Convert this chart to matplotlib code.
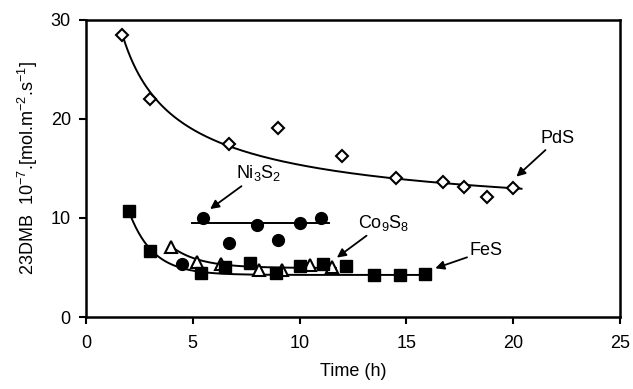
import numpy as np
import matplotlib
matplotlib.use('Agg')
from matplotlib import pyplot as plt

plt.rcParams['font.family'] = ['Liberation Sans', 'DejaVu Sans']
plt.rcParams['mathtext.fontset'] = 'custom'
plt.rcParams['mathtext.rm'] = 'Liberation Sans'
plt.rcParams['mathtext.it'] = 'Liberation Sans'

# PdS (open diamonds)
pds_t = [1.7, 3.0, 6.7, 9.0, 12.0, 14.5, 16.7, 17.7, 18.8, 20.0]
pds_r = [28.5, 22.0, 17.5, 19.1, 16.3, 14.0, 13.6, 13.1, 12.1, 13.0]

# Ni3S2 (filled circles)
ni_t = [4.5, 5.5, 6.7, 8.0, 9.0, 10.0, 11.0]
ni_r = [5.4, 10.0, 7.5, 9.3, 7.8, 9.5, 10.0]

# Co9S8 (open triangles)
co_t = [4.0, 5.2, 6.3, 8.1, 9.2, 10.5, 11.5]
co_r = [7.1, 5.6, 5.4, 4.7, 4.7, 5.3, 5.1]

# FeS (filled squares)
fes_t = [2.0, 3.0, 5.4, 6.5, 7.7, 8.9, 10.0, 11.1, 12.2, 13.5, 14.7, 15.9]
fes_r = [10.7, 6.7, 4.4, 5.1, 5.5, 4.4, 5.2, 5.4, 5.2, 4.2, 4.2, 4.3]

# trend curves (parameters estimated from the figure)
pds_fit = (8.43, 27.6, 0.6)      # a + b * t**-n
ni_level = 9.45                   # flat line
co_fit = (4.95, 2.15, 0.75, 4.0)  # a + b*exp(-k(t-t0))
fes_fit = (4.25, 6.45, 0.9, 2.0)

fig = plt.figure(figsize=(6.33, 3.89), dpi=100)
ax = fig.add_axes([0.136, 0.185, 0.843, 0.764])

t = np.linspace(1.7, 20.4, 300)
a, b, n = pds_fit
ax.plot(t, a + b * t ** -n, color='black', lw=1.4)

ax.plot([4.95, 11.4], [ni_level, ni_level], color='black', lw=1.4)

t = np.linspace(4.0, 11.7, 200)
a, b, k, t0 = co_fit
ax.plot(t, a + b * np.exp(-k * (t - t0)), color='black', lw=1.4)

t = np.linspace(2.0, 15.9, 300)
a, b, k, t0 = fes_fit
ax.plot(t, a + b * np.exp(-k * (t - t0)), color='black', lw=1.4)

ax.plot(pds_t, pds_r, 'D', ms=6.5, mfc='white', mec='black', mew=1.5, zorder=3)
ax.plot(ni_t, ni_r, 'o', ms=8.5, color='black', zorder=3)
ax.plot(co_t, co_r, '^', ms=8, mfc='white', mec='black', mew=1.5, zorder=3)
ax.plot(fes_t, fes_r, 's', ms=8, color='black', zorder=3)

fs = 13
arrow = dict(arrowstyle='-|>', color='black', lw=1.3, mutation_scale=13,
             shrinkA=0, shrinkB=0)
ax.annotate('Ni$_3$S$_2$', xy=(5.81, 10.9), xytext=(8.1, 14.5), fontsize=fs,
            ha='center', va='center', arrowprops=arrow)
ax.annotate('PdS', xy=(20.16, 14.17), xytext=(22.1, 18.0), fontsize=fs,
            ha='center', va='center', arrowprops=arrow)
ax.annotate('Co$_9$S$_8$', xy=(11.75, 6.0), xytext=(13.95, 9.5), fontsize=fs,
            ha='center', va='center', arrowprops=arrow)
ax.annotate('FeS', xy=(16.36, 4.92), xytext=(18.75, 6.7), fontsize=fs,
            ha='center', va='center', arrowprops=arrow)

ax.set_xlim(0, 25)
ax.set_ylim(0, 30)
ax.set_xticks([0, 5, 10, 15, 20, 25])
ax.set_yticks([0, 10, 20, 30])
ax.tick_params(direction='out', length=5, width=1.5, labelsize=fs,
               top=False, right=False)
ax.tick_params(axis='x', pad=8)
ax.tick_params(axis='y', pad=6)
for s in ax.spines.values():
    s.set_linewidth(1.8)

ax.set_xlabel('Time (h)', fontsize=fs, labelpad=8)
ax.set_ylabel('23DMB  10$^{-7}$.[mol.m$^{-2}$.s$^{-1}$]', fontsize=fs,
              labelpad=8)

fig.savefig('out.png', dpi=100)
